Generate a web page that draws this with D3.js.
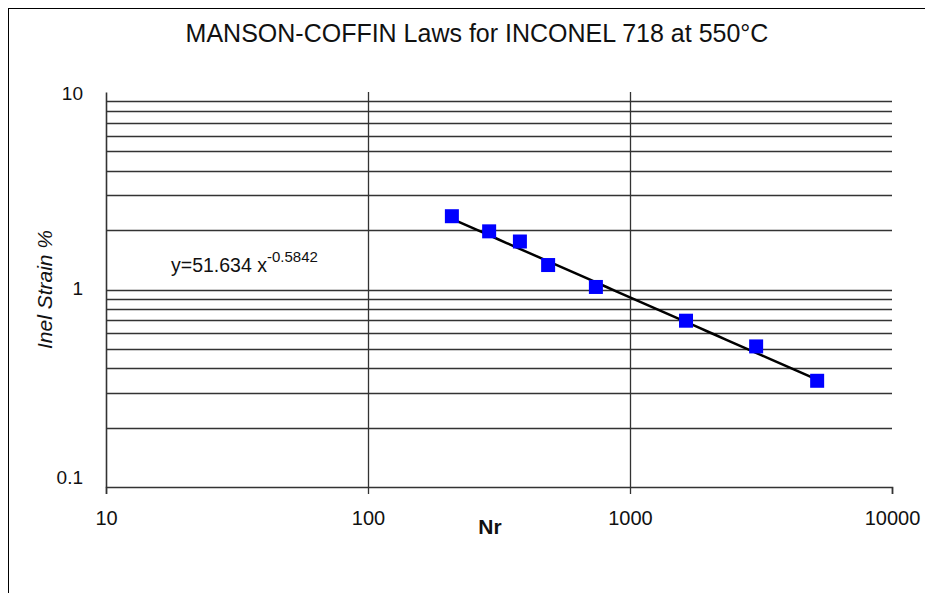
<!DOCTYPE html>
<html>
<head>
<meta charset="utf-8">
<script src="https://cdn.jsdelivr.net/npm/d3@7"></script>
<style>
  body { margin: 0; background: #fff; }
  text { font-family: "Liberation Sans", Arial, sans-serif; fill: #111; }
</style>
</head>
<body>
<div id="chart"></div>
<script>
// data
const cycles = [209, 290, 380, 487, 741, 1636, 3030, 5180];
const strain = [2.35, 1.97, 1.75, 1.33, 1.03, 0.695, 0.515, 0.345];
const fitA = 51.634, fitB = -0.5842;
const xTicks = [10, 100, 1000, 10000];
const yTicks = [0.1, 1, 10];
const yGrid = [0.2, 0.3, 0.4, 0.5, 0.6, 0.7, 0.8, 0.9, 1, 2, 3, 4, 5, 6, 7, 8, 9];
const xGrid = [100, 1000];

const W = 925, H = 593;
const margin = {top: 92, right: 33, bottom: 106, left: 106};

const svg = d3.select("#chart").append("svg")
  .attr("width", W).attr("height", H);

// chart frame (only top and left edges visible)
svg.append("rect")
  .attr("x", 8.5).attr("y", 8.5)
  .attr("width", 1000).attr("height", 1000)
  .attr("fill", "none").attr("stroke", "#000").attr("stroke-width", 1);

const x = d3.scaleLog().domain([10, 10000]).range([margin.left, W - margin.right]);
const y = d3.scaleLog().domain([0.1, 10]).range([H - margin.bottom, margin.top]);

// horizontal gridlines
svg.append("g").selectAll("line")
  .data(yGrid).join("line")
  .attr("x1", x(10)).attr("x2", x(10000))
  .attr("y1", d => Math.round(y(d)) + 0.5).attr("y2", d => Math.round(y(d)) + 0.5)
  .attr("stroke", "#333").attr("stroke-width", 1.6);

// vertical gridlines
svg.append("g").selectAll("line")
  .data(xGrid).join("line")
  .attr("x1", d => Math.round(x(d)) + 0.5).attr("x2", d => Math.round(x(d)) + 0.5)
  .attr("y1", y(10)).attr("y2", y(0.1))
  .attr("stroke", "#333").attr("stroke-width", 1.3);

// x axis
const xAxis = svg.append("g")
  .attr("transform", `translate(0,${y(0.1)})`)
  .call(d3.axisBottom(x).tickValues(xTicks).tickFormat(d3.format("d")).tickSize(7).tickPadding(17));
xAxis.select(".domain").attr("stroke", "#333").attr("stroke-width", 1.6);
xAxis.selectAll(".tick line").attr("stroke", "#333").attr("stroke-width", 1.3);
xAxis.selectAll("text").style("font-size", "20px").attr("fill", "#111");

// y axis
const yAxis = svg.append("g")
  .attr("transform", `translate(${x(10)},0)`)
  .call(d3.axisLeft(y).tickValues(yTicks).tickFormat(d => d < 1 ? "0.1" : d3.format("d")(d)).tickSize(0).tickPadding(23));
yAxis.select(".domain").attr("stroke", "#333").attr("stroke-width", 1.6);
yAxis.selectAll("text").style("font-size", "19px").attr("fill", "#111")
  .attr("dy", d => d === 0.1 ? "-0.2em" : d === 10 ? "0.4em" : "0.25em");

// title
svg.append("text")
  .attr("x", 477).attr("y", 42)
  .attr("text-anchor", "middle")
  .style("font-size", "25px")
  .text("MANSON-COFFIN Laws for INCONEL 718 at 550°C");

// axis titles
svg.append("text")
  .attr("x", 490).attr("y", 534)
  .attr("text-anchor", "middle")
  .style("font-size", "21px").style("font-weight", "bold")
  .text("Nr");

svg.append("text")
  .attr("transform", `translate(52,${y(1)}) rotate(-90)`)
  .attr("text-anchor", "middle")
  .style("font-size", "21px").style("font-style", "italic")
  .text("Inel Strain %");

// power-law trend line
const fitX = d3.range(0, 41).map(i => Math.pow(10, Math.log10(cycles[0]) + i / 40 * (Math.log10(cycles[cycles.length - 1]) - Math.log10(cycles[0]))));
svg.append("path")
  .datum(fitX)
  .attr("fill", "none").attr("stroke", "#000").attr("stroke-width", 2.5)
  .attr("d", d3.line().x(d => x(d)).y(d => y(fitA * Math.pow(d, fitB))));

// data markers
svg.append("g").selectAll("rect")
  .data(cycles.map((c, i) => [c, strain[i]])).join("rect")
  .attr("x", d => x(d[0]) - 7).attr("y", d => y(d[1]) - 7)
  .attr("width", 14).attr("height", 14)
  .attr("fill", "#0000ff");

// equation label
const eq = svg.append("text")
  .attr("x", 171).attr("y", 272)
  .style("font-size", "19.5px");
eq.append("tspan").text("y=51.634 x");
eq.append("tspan").attr("dy", -10).style("font-size", "15px").text("-0.5842");
</script>
</body>
</html>
